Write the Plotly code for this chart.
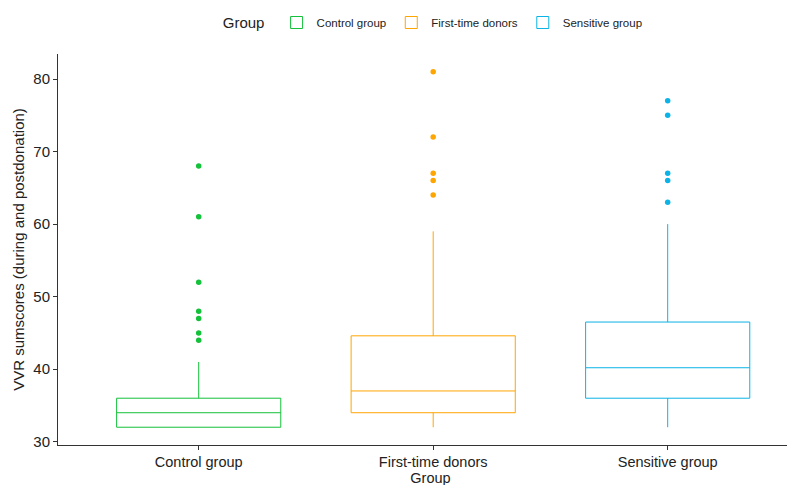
import plotly.graph_objects as go

groups = ["Control group", "First-time donors", "Sensitive group"]
colors = ["#14C13A", "#FFA500", "#0BB3E6"]
q1 = [32, 34, 36]
median = [34, 37, 40.2]
q3 = [36, 44.6, 46.5]
lower = [32, 32, 32]
upper = [41, 59, 60]
outliers = [
    [68, 61, 52, 48, 47, 45, 44],
    [81, 72, 67, 66, 64],
    [77, 75, 67, 66, 63],
]

FONT = "Arial, Liberation Sans, sans-serif"
fig = go.Figure()
for i, g in enumerate(groups):
    fig.add_trace(go.Box(
        name=g, x=[g], q1=[q1[i]], median=[median[i]], q3=[q3[i]],
        lowerfence=[lower[i]], upperfence=[upper[i]],
        line=dict(color=colors[i], width=1), fillcolor="rgba(255,255,255,0)",
        width=0.7, boxpoints=False, whiskerwidth=0, showlegend=True,
    ))
    fig.add_trace(go.Scatter(
        x=[g] * len(outliers[i]), y=outliers[i], mode="markers",
        marker=dict(color=colors[i], size=5.5), showlegend=False, hoverinfo="y",
    ))

fig.update_layout(
    width=795, height=485,
    margin=dict(l=50, r=0, t=46, b=48),
    paper_bgcolor="white", plot_bgcolor="white",
    font=dict(family=FONT, color="#222222"),
    showlegend=True,
    legend=dict(orientation="h", x=0.505, xanchor="center", y=1.0, yanchor="top",
                yref="container", font=dict(size=11.5, color="#222"),
                title=dict(text="Group ", font=dict(size=15)),
                tracegroupgap=0),
    xaxis=dict(type="category", range=[-0.6, 2.577], showline=True, linecolor="#333",
               linewidth=1, ticks="outside", ticklen=4, tickcolor="#333", automargin=False,
               tickfont=dict(size=14.5, color="#222"), showgrid=False, zeroline=False,
               title=dict(text="Group", font=dict(size=14.5), standoff=2)),
    yaxis=dict(range=[29.55, 83.45], showline=True, linecolor="#333", linewidth=1,
               ticks="outside", ticklen=4, tickcolor="#333", tickvals=[30, 40, 50, 60, 70, 80],
               tickfont=dict(size=15, color="#222"), showgrid=False, zeroline=False, automargin=False,
               title=dict(text="VVR sumscores (during and postdonation)", font=dict(size=15), standoff=5)),
)
fig.write_html("out.html")
